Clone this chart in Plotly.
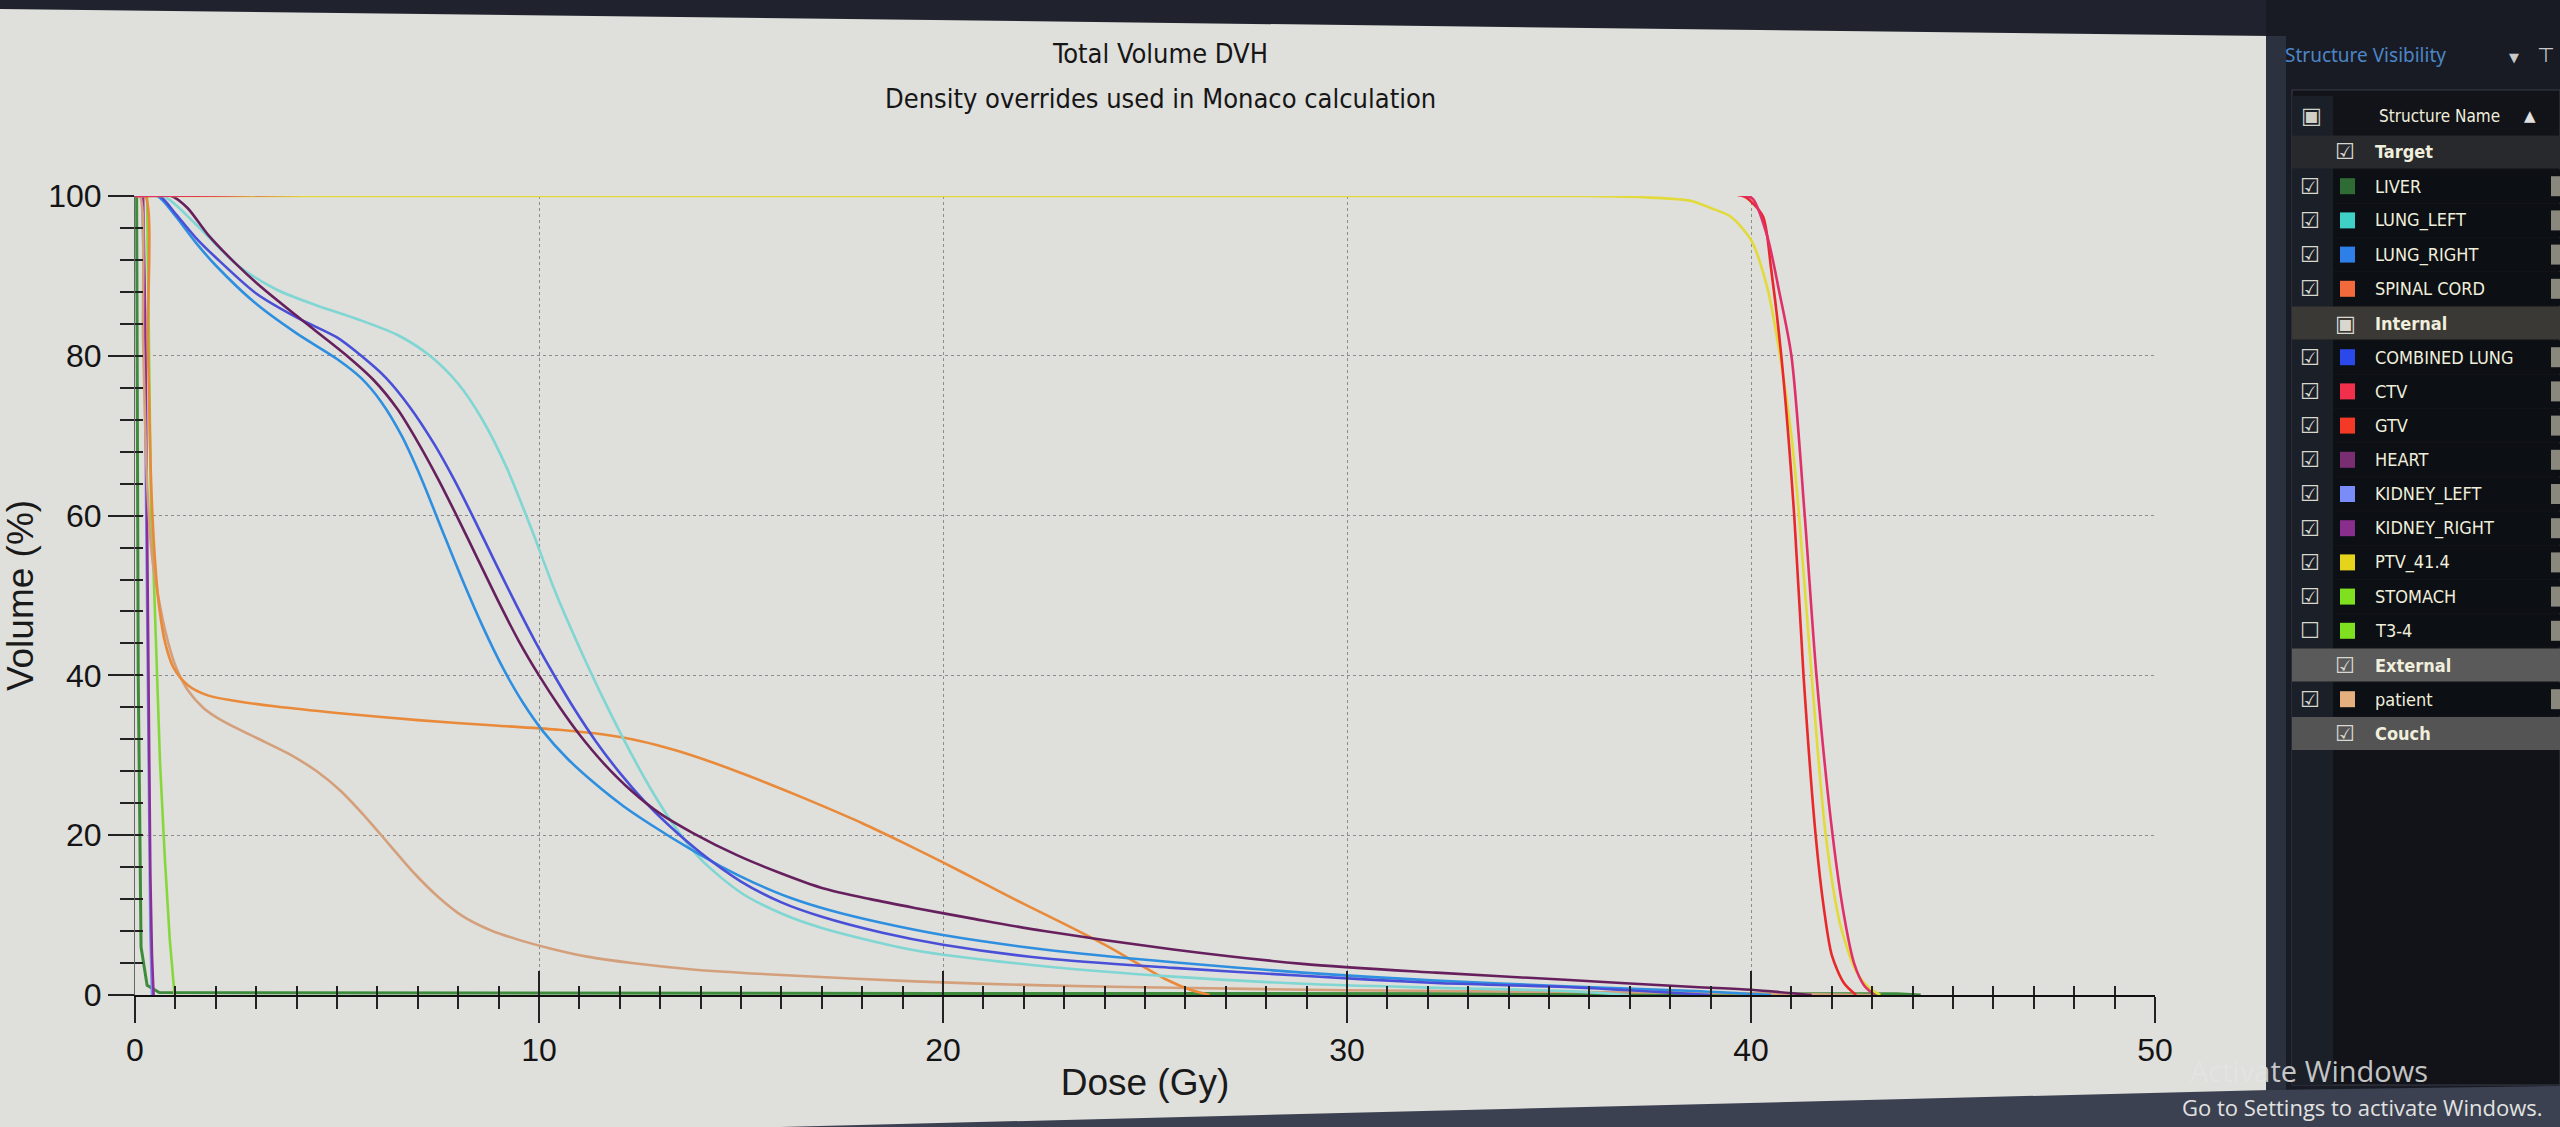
import plotly.graph_objects as go

# ---------------- page / plot geometry (pixels) ----------------
W, H = 2560, 1127
PL, PR, PT, PB = 135, 2155, 196, 995

# ---------------- text ----------------
TITLE_LINE1 = "Total Volume DVH"
TITLE_LINE2 = "Density overrides used in Monaco calculation"
X_TITLE = "Dose (Gy)"
Y_TITLE = "Volume (%)"
X_TICKS = [0, 10, 20, 30, 40, 50]
Y_TICKS = [0, 20, 40, 60, 80, 100]

# ---------------- DVH data (dose Gy, volume %) ----------------
LIVER_DOSE = [0, 0.04, 0.08, 0.15, 0.3, 0.6, 20.0, 43.6, 44.2]
LIVER_VOL = [100, 100, 40, 6, 1.2, 0.3, 0.2, 0.15, 0]

LUNG_LEFT_DOSE = [0, 0.7, 1.5, 2.5, 3.5, 4.5, 5.5, 6.5, 7.3, 8.0, 8.6, 9.2, 9.8, 10.4, 11.0, 11.6,
                  12.2, 12.8, 13.4, 14.0, 15.0, 16.0, 17.0, 19.3, 22.5, 25.7, 28.9, 32.2, 35.4, 37.0]
LUNG_LEFT_VOL = [100, 100, 96.5, 91.5, 88.3, 86.3, 84.6, 82.6, 80, 76.5, 72, 66, 58.5, 50.5, 43.5, 37,
                 31, 25.5, 20.8, 17, 12.8, 10.2, 8.4, 5.6, 3.6, 2.3, 1.4, 0.9, 0.5, 0]

LUNG_RIGHT_DOSE = [0, 0.55, 1.0, 1.5, 2.0, 3.0, 4.0, 5.0, 5.6, 6.1, 6.6, 7.1, 7.6, 8.1, 8.6, 9.1,
                   9.6, 10.1, 10.7, 11.4, 12.1, 12.9, 13.7, 14.5, 15.3, 16.2, 17.2, 18.5, 20.0, 22.5,
                   25.7, 28.9, 32.2, 35.4, 38.6, 40.5]
LUNG_RIGHT_VOL = [100, 100, 97.5, 94.2, 91.3, 86.5, 82.8, 79.6, 77.2, 74.2, 70, 64.5, 58.2, 52, 46.2, 41,
                  36.6, 33, 29.6, 26.4, 23.6, 20.9, 18.4, 16.1, 14.1, 12.2, 10.6, 9, 7.5, 5.7,
                  4.1, 2.8, 1.8, 1.1, 0.5, 0]

SPINAL_CORD_DOSE = [0, 0.25, 0.32, 0.4, 0.5, 0.6, 0.75, 0.95, 1.3, 1.8, 2.5, 3.5, 5.0, 7.0, 9.0, 10.5,
                    11.6, 12.5, 13.4, 14.3, 15.2, 16.1, 17.0, 18.0, 19.0, 20.0, 21.0, 22.0, 23.0, 24.0,
                    24.8, 25.5, 26.1, 26.6]
SPINAL_CORD_VOL = [100, 100, 82, 64, 54, 48.5, 44, 41, 38.8, 37.5, 36.8, 36.1, 35.3, 34.4, 33.7, 33.2,
                   32.6, 31.8, 30.6, 29.1, 27.4, 25.6, 23.7, 21.5, 19.1, 16.6, 14.0, 11.4, 8.9, 6.3,
                   4.0, 2.0, 0.7, 0]

COMBINED_LUNG_DOSE = [0, 0.6, 1.0, 1.5, 2.0, 3.0, 4.0, 5.0, 5.6, 6.2, 6.8, 7.4, 7.9, 8.4, 8.9, 9.4,
                      9.9, 10.4, 10.9, 11.4, 12.0, 12.6, 13.2, 14.0, 15.0, 16.0, 17.0, 18.5, 20.0,
                      22.5, 25.7, 28.9, 32.2, 35.4, 39.0]
COMBINED_LUNG_VOL = [100, 100, 97.8, 94.8, 92.3, 87.8, 84.8, 82.3, 80, 77.3, 73.6, 69, 64.5, 59.5, 54.3, 49.2,
                     44.3, 39.8, 35.6, 31.8, 27.8, 24.3, 21.3, 17.8, 14.2, 11.6, 9.8, 7.8, 6.3,
                     4.6, 3.4, 2.4, 1.5, 1.0, 0]

CTV_DOSE = [0, 39.9, 40.05, 40.4, 40.7, 41.0, 41.33, 41.62, 42.02, 42.3, 42.55, 42.8, 43.06]
CTV_VOL = [100, 100, 99.6, 95, 88, 80, 60, 40, 20, 10, 4, 1.2, 0]

GTV_DOSE = [0, 39.8, 40.0, 40.3, 40.5, 40.75, 41.07, 41.3, 41.6, 41.8, 42.0, 42.3, 42.6]
GTV_VOL = [100, 100, 99.3, 97.4, 90.8, 80, 60, 40, 20, 11, 5, 1.5, 0]

HEART_DOSE = [0, 0.9, 1.3, 1.8, 2.5, 3.1, 4.1, 5.2, 5.9, 6.5, 7.0, 7.5, 8.0, 8.5, 9.0, 9.5, 10.0,
              10.5, 11.0, 11.6, 12.3, 13.0, 13.8, 14.9, 16.0, 17.0, 18.2, 19.3, 20.8, 22.5, 25.7,
              28.9, 32.2, 35.4, 38.6, 40.0, 41.5]
HEART_VOL = [100, 100, 98.5, 95.2, 91.5, 88.7, 84.6, 80.2, 77, 73.3, 69.2, 64.6, 59.6, 54.4, 49.2, 44.3, 40,
             36.1, 32.6, 29, 25.5, 22.7, 20.3, 17.5, 15.2, 13.4, 12, 10.9, 9.5, 8.0, 5.7,
             3.9, 2.8, 1.9, 1.0, 0.65, 0]

KIDNEY_LEFT_DOSE = [0, 0.18, 0.22, 0.26, 0.30, 0.34, 0.38, 0.42]
KIDNEY_LEFT_VOL = [100, 100, 90, 70, 45, 22, 8, 0]

KIDNEY_RIGHT_DOSE = [0, 0.2, 0.25, 0.3, 0.34, 0.38, 0.42, 0.46]
KIDNEY_RIGHT_VOL = [100, 100, 85, 60, 35, 15, 5, 0]

PTV_DOSE = [0, 36.0, 37.5, 38.5, 39.0, 39.5, 40.0, 40.4, 40.72, 41.0, 41.19, 41.5, 41.85, 42.2, 42.6, 42.9, 43.2]
PTV_VOL = [100, 100, 99.8, 99.4, 98.5, 97.4, 94.5, 88.6, 80, 70, 60, 40, 20, 9, 3, 1, 0]

STOMACH_DOSE = [0, 0.3, 0.36, 0.4, 0.46, 0.54, 0.62, 0.74, 0.86, 0.98]
STOMACH_VOL = [100, 100, 75, 60, 53, 42, 29, 17, 7, 0]

PATIENT_DOSE = [0, 0.12, 0.2, 0.3, 0.42, 0.57, 0.8, 1.0, 1.3, 1.7, 2.2, 3.0, 3.8, 4.5, 5.1, 5.7, 6.3,
                6.9, 7.5, 8.1, 8.8, 9.5, 10.3, 11.2, 12.3, 13.8, 16.0, 19.3, 22.5, 25.7, 30.0, 35.0,
                40.0, 43.0]
PATIENT_VOL = [100, 100, 82, 64, 55, 50, 44.5, 41.2, 38.2, 35.9, 34.2, 32.2, 30.2, 28, 25.5, 22.3, 18.8,
               15.3, 12.3, 9.9, 8.1, 6.9, 5.8, 4.8, 4.0, 3.2, 2.5, 1.7, 1.2, 0.9, 0.6, 0.4,
               0.2, 0]

# ---------------- structure list (panel) ----------------
GROUPS = ["Target", "Internal", "External", "Couch"]
GROUP_STATE = ["checked", "partial", "checked", "checked"]
GROUP_BAND = ["#27292c", "#3b3935", "#5a5a5a", "#545454"]

STRUCT_NAMES = ["LIVER", "LUNG_LEFT", "LUNG_RIGHT", "SPINAL CORD", "COMBINED LUNG", "CTV", "GTV",
                "HEART", "KIDNEY_LEFT", "KIDNEY_RIGHT", "PTV_41.4", "STOMACH", "T3-4", "patient"]
STRUCT_GROUP = ["Target"] * 4 + ["Internal"] * 9 + ["External"]
STRUCT_SWATCH = ["#2f6b35", "#3fd0c6", "#2f7fe8", "#f26a3c", "#2b48ea", "#f2304c", "#f43a26",
                 "#7a2e72", "#7a8cf8", "#8a2e8e", "#e6d41c", "#7ee01e", "#7ee01e", "#e6b07e"]
STRUCT_LINE = ["#3c8c3c", "#7fd6d2", "#2e8fe0", "#e98a3a", "#4a4fd8", "#e0306a", "#e8282a",
               "#66205e", "#7a8cf0", "#8a2f9a", "#e2da3a", "#86d83a", "#86d83a", "#d4a07c"]
STRUCT_VISIBLE = [True] * 12 + [False] + [True]

CURVES = {
    "LIVER": (LIVER_DOSE, LIVER_VOL),
    "LUNG_LEFT": (LUNG_LEFT_DOSE, LUNG_LEFT_VOL),
    "LUNG_RIGHT": (LUNG_RIGHT_DOSE, LUNG_RIGHT_VOL),
    "SPINAL CORD": (SPINAL_CORD_DOSE, SPINAL_CORD_VOL),
    "COMBINED LUNG": (COMBINED_LUNG_DOSE, COMBINED_LUNG_VOL),
    "CTV": (CTV_DOSE, CTV_VOL),
    "GTV": (GTV_DOSE, GTV_VOL),
    "HEART": (HEART_DOSE, HEART_VOL),
    "KIDNEY_LEFT": (KIDNEY_LEFT_DOSE, KIDNEY_LEFT_VOL),
    "KIDNEY_RIGHT": (KIDNEY_RIGHT_DOSE, KIDNEY_RIGHT_VOL),
    "PTV_41.4": (PTV_DOSE, PTV_VOL),
    "STOMACH": (STOMACH_DOSE, STOMACH_VOL),
    "patient": (PATIENT_DOSE, PATIENT_VOL),
}
DRAW_ORDER = ["LIVER", "KIDNEY_LEFT", "KIDNEY_RIGHT", "STOMACH", "patient", "SPINAL CORD",
              "LUNG_LEFT", "LUNG_RIGHT", "COMBINED LUNG", "HEART", "PTV_41.4", "GTV", "CTV"]
STEEP = {"LIVER", "KIDNEY_LEFT", "KIDNEY_RIGHT", "STOMACH"}


def fx(px):
    return (px - PL) / (PR - PL)


def fy(py):
    return (PB - py) / (PB - PT)


fig = go.Figure()

for name in DRAW_ORDER:
    i = STRUCT_NAMES.index(name)
    if not STRUCT_VISIBLE[i]:
        continue
    d, v = CURVES[name]
    fig.add_trace(go.Scatter(
        x=d, y=v, mode="lines", name=name, showlegend=False,
        line=dict(color=STRUCT_LINE[i], width=3 if name == "LIVER" else 2.6,
                  shape="linear" if name in STEEP else "spline", smoothing=0.8),
        hoverinfo="x+y+name",
    ))

# dummy traces to activate overlay axes (crossing ticks)
fig.add_trace(go.Scatter(x=[None], y=[None], xaxis="x2", yaxis="y", showlegend=False, hoverinfo="skip"))
fig.add_trace(go.Scatter(x=[None], y=[None], xaxis="x", yaxis="y2", showlegend=False, hoverinfo="skip"))

TICK_FONT = dict(family="Liberation Sans, Arial, sans-serif", size=32, color="#141414")
BG = "#dfdfdb"

shapes = []
annotations = []


def rect(x0, y0, x1, y1, color, line=None):
    shapes.append(dict(type="rect", xref="paper", yref="paper",
                       x0=fx(x0), x1=fx(x1), y0=fy(y1), y1=fy(y0),
                       fillcolor=color, line=dict(width=0) if line is None else line,
                       layer="above"))


def text(px, py, s, size, color, family, anchor="left", bold=False):
    annotations.append(dict(xref="paper", yref="paper", x=fx(px), y=fy(py),
                            text=f"<b>{s}</b>" if bold else s, showarrow=False,
                            xanchor=anchor, yanchor="middle",
                            font=dict(size=size, color=color, family=family)))


# top dark band of the monitor (slightly tilted)
shapes.append(dict(type="path", xref="paper", yref="paper", layer="above",
                   path=f"M {fx(0)},{fy(0)} L {fx(2270)},{fy(0)} L {fx(2270)},{fy(36)} L {fx(0)},{fy(9)} Z",
                   fillcolor="#20232d", line=dict(width=0)))

# right structure panel
rect(2266, 0, 2560, 1127, "#181b24")
rect(2266, 36, 2286, 1127, "#2b313e")
rect(2292, 90, 2560, 1085, "#111318", line=dict(color="#3a3f4a", width=1))
rect(2292, 96, 2333, 1085, "#1b1f27")

NARROW = "DejaVu Sans Condensed, Liberation Sans Narrow, Arial Narrow, sans-serif"
PANEL_TXT = "#f0eedc"
BOX = "DejaVu Sans, sans-serif"

text(2283, 55, "Structure Visibility", 19, "#4d86c6", "Noto Sans, Open Sans, sans-serif")
text(2514, 57, "▼", 13, "#c8c8c8", BOX, anchor="center")
text(2545, 55, "⊤", 20, "#c8c8c8", BOX, anchor="center")
text(2311, 116, "▣", 22, "#d0d0c8", BOX, anchor="center")
text(2377, 116, "Structure Name", 17, PANEL_TXT, NARROW)
text(2530, 116, "▲", 15, "#e0e0e0", BOX, anchor="center")

ROW0, STEP, ROWH = 152, 34.2, 33
row = 0
for g, state, band in zip(GROUPS, GROUP_STATE, GROUP_BAND):
    yc = ROW0 + row * STEP
    rect(2292, yc - ROWH / 2, 2560, yc + ROWH / 2, band)
    text(2345, yc, "▣" if state == "partial" else "☑", 22, "#d8d8d0", BOX, anchor="center")
    text(2373, yc, g, 18, PANEL_TXT, NARROW, bold=True)
    row += 1
    for i, n in enumerate(STRUCT_NAMES):
        if STRUCT_GROUP[i] != g:
            continue
        yc = ROW0 + row * STEP
        rect(2333, yc - ROWH / 2, 2560, yc + ROWH / 2, "#0c0f14")
        text(2310, yc, "☑" if STRUCT_VISIBLE[i] else "☐", 22, "#d8d8d0", BOX, anchor="center")
        rect(2340, yc - 8, 2355, yc + 8, STRUCT_SWATCH[i])
        text(2373, yc, n, 18, PANEL_TXT, NARROW)
        rect(2551, yc - 10, 2566, yc + 10, "#8a877c")
        row += 1

# bottom dark band (photo edge)
shapes.append(dict(type="path", xref="paper", yref="paper", layer="above",
                   path=f"M {fx(780)},{fy(1127)} L {fx(2270)},{fy(1090)} L {fx(2560)},{fy(1086)} "
                        f"L {fx(2560)},{fy(1127)} Z",
                   fillcolor="#3b4150", line=dict(width=0)))

text(2188, 1070, "Activate Windows", 29, "rgba(228,228,228,0.85)", "Open Sans, sans-serif")
text(2180, 1107, "Go to Settings to activate Windows.", 22, "#e2e2e2", "Open Sans, sans-serif")

# chart titles
text(1160, 54, TITLE_LINE1, 27, "#161616", NARROW, anchor="center")
text(1160, 98, TITLE_LINE2, 27, "#161616", NARROW, anchor="center")

fig.update_layout(
    width=W, height=H, autosize=False,
    margin=dict(l=PL, r=W - PR, t=PT, b=H - PB, pad=0),
    paper_bgcolor=BG, plot_bgcolor=BG,
    showlegend=False,
    shapes=shapes, annotations=annotations,
    xaxis=dict(range=[0, 50], tickvals=X_TICKS, ticktext=[str(t) for t in X_TICKS],
               ticks="outside", ticklen=26, tickwidth=2, tickcolor="#222",
               showline=True, linecolor="#111", linewidth=2,
               showgrid=True, gridcolor="#8c8c8c", griddash="dot", gridwidth=1,
               zeroline=False, tickfont=TICK_FONT,
               minor=dict(tickmode="linear", tick0=0, dtick=1, ticks="outside", ticklen=12,
                          tickwidth=1.5, tickcolor="#222", showgrid=False),
               title=dict(text=X_TITLE, font=dict(family="Liberation Sans, Arial, sans-serif",
                                                  size=37, color="#1a1a1a"), standoff=2)),
    yaxis=dict(range=[0, 100], tickvals=Y_TICKS, ticktext=[str(t) for t in Y_TICKS],
               ticks="outside", ticklen=26, tickwidth=2, tickcolor="#222",
               showline=True, linecolor="#666", linewidth=1,
               showgrid=True, gridcolor="#8c8c8c", griddash="dot", gridwidth=1,
               zeroline=False, tickfont=TICK_FONT,
               minor=dict(tickmode="linear", tick0=0, dtick=4, ticks="outside", ticklen=14,
                          tickwidth=1.5, tickcolor="#222", showgrid=False),
               title=dict(text=Y_TITLE, font=dict(family="Liberation Sans, Arial, sans-serif",
                                                  size=37, color="#1a1a1a"), standoff=8)),
    xaxis2=dict(range=[0, 50], overlaying="x", anchor="y", side="bottom",
                tickvals=X_TICKS, showticklabels=False, ticks="inside", ticklen=24,
                tickwidth=2, tickcolor="#222", showline=False, showgrid=False, zeroline=False,
                minor=dict(tickmode="linear", tick0=0, dtick=1, ticks="inside", ticklen=9,
                           tickwidth=1.5, tickcolor="#222", showgrid=False)),
    yaxis2=dict(range=[0, 100], overlaying="y", anchor="x", side="left",
                tickvals=Y_TICKS, showticklabels=False, ticks="inside", ticklen=4,
                tickwidth=1, tickcolor="#222", showline=False, showgrid=False, zeroline=False,
                minor=dict(tickmode="linear", tick0=0, dtick=4, ticks="inside", ticklen=8,
                           tickwidth=1.5, tickcolor="#222", showgrid=False)),
)

fig.write_html("out.html", config={"displayModeBar": False},
               post_script="document.body.style.margin='0';document.body.style.overflow='hidden';")
